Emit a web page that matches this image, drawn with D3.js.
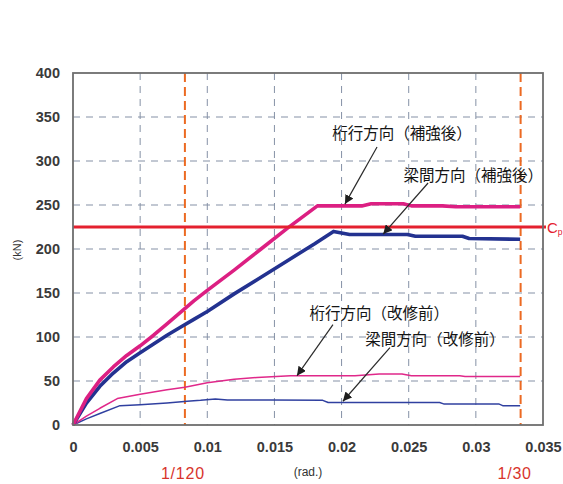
<!DOCTYPE html>
<html>
<head>
<meta charset="utf-8">
<script src="https://cdn.jsdelivr.net/npm/d3@7"></script>
<style>
  html, body { margin: 0; padding: 0; background: #ffffff; }
  svg { display: block; }
</style>
</head>
<body>
<svg id="chart" width="563" height="484"></svg>
<script>
// Drift angle (rad) vs. horizontal load (kN)
const xTicks = [0, 0.005, 0.01, 0.015, 0.02, 0.025, 0.03, 0.035];
const xTickLabels = ["0", "0.005", "0.01", "0.015", "0.02", "0.025", "0.03", "0.035"];
const yTicks = [0, 50, 100, 150, 200, 250, 300, 350, 400];
const yTickLabels = ["0", "50", "100", "150", "200", "250", "300", "350", "400"];

// Longitudinal direction, after strengthening
const ketaAfterX = [0, 0.001, 0.002, 0.003, 0.004, 0.005, 0.006, 0.007, 0.008, 0.009, 0.010, 0.012, 0.014, 0.016, 0.0182, 0.0215, 0.0222, 0.0246, 0.0252, 0.0275, 0.0285, 0.0333];
const ketaAfterY = [0, 30, 51, 66, 79, 90, 102, 115, 128, 141, 153, 176, 200, 224, 249, 249, 251.5, 251.5, 249, 249, 248, 248];

// Transverse direction, after strengthening
const hariAfterX = [0, 0.001, 0.002, 0.003, 0.004, 0.005, 0.006, 0.007, 0.008, 0.009, 0.010, 0.012, 0.014, 0.016, 0.018, 0.0194, 0.0206, 0.0249, 0.0255, 0.029, 0.0295, 0.0333];
const hariAfterY = [0, 25, 44, 59, 72, 82, 92, 102, 111, 120, 129, 149, 168, 187, 206, 220, 216.5, 216.5, 214.5, 214.5, 212, 211];

// Longitudinal direction, before renovation
const ketaBeforeX = [0, 0.001, 0.002, 0.0033, 0.005, 0.007, 0.00833, 0.010, 0.012, 0.0137, 0.0162, 0.021, 0.0228, 0.0245, 0.0252, 0.0288, 0.0292, 0.0333];
const ketaBeforeY = [0, 10, 19, 30, 35, 40, 43, 48, 52, 54, 56, 56, 58, 58, 56, 56, 55, 55];

// Transverse direction, before renovation
const hariBeforeX = [0, 0.001, 0.002, 0.0035, 0.005, 0.007, 0.0085, 0.0095, 0.0106, 0.0115, 0.0147, 0.0186, 0.019, 0.0273, 0.0276, 0.0317, 0.032, 0.0333];
const hariBeforeY = [0, 7, 13, 22, 23, 25, 27, 28, 29.5, 28.5, 28.5, 28, 25.5, 25.5, 24, 24, 22, 22];

// Required strength line and drift limits
const cpValue = 225;
const driftLimits = [1 / 120, 1 / 30];
const driftLabels = ["1/120", "1/30"];

// Curve annotations: label text, label anchor, arrow tail, arrow tip (data units)
const noteTexts = ["桁行方向（補強後）", "梁間方向（補強後）", "桁行方向（改修前）", "梁間方向（改修前）"];
const noteAt = [[0.0245, 333], [0.0298, 285], [0.0228, 128], [0.02696, 99]];
const noteTail = [[0.02264, 316], [0.02644, 275], [0.01936, 114], [0.0236, 88]];
const noteTip = [[0.02025, 251], [0.0231, 217], [0.01668, 56], [0.0201, 27]];

const svg = d3.select("#chart");
const plotLeft = 73, plotRight = 543, plotTop = 73, plotBottom = 425;

const x = d3.scaleLinear().domain([0, 0.035]).range([plotLeft, plotRight]);
const y = d3.scaleLinear().domain([0, 400]).range([plotBottom, plotTop]);

const numFont = "'Liberation Sans', Arial, sans-serif";
const jpFont = "'Noto Sans CJK JP', 'Noto Sans CJK SC', sans-serif";

// Grid
const grid = svg.append("g");
grid.selectAll("line.gx").data(xTicks.slice(1, -1)).enter().append("line")
  .attr("x1", d => x(d)).attr("x2", d => x(d))
  .attr("y1", plotTop).attr("y2", plotBottom)
  .attr("stroke", "#8591a6").attr("stroke-width", 1)
  .attr("stroke-dasharray", "7,6");
grid.selectAll("line.gy").data(yTicks.slice(1, -1)).enter().append("line")
  .attr("x1", plotLeft).attr("x2", plotRight)
  .attr("y1", d => y(d)).attr("y2", d => y(d))
  .attr("stroke", "#8591a6").attr("stroke-width", 1)
  .attr("stroke-dasharray", "7,6");

// Axes (labels only, frame drawn separately)
const xAxis = d3.axisBottom(x).tickValues(xTicks)
  .tickFormat((d, i) => xTickLabels[i]).tickSize(0).tickPadding(17);
const gx = svg.append("g").attr("transform", `translate(0,${plotBottom})`).call(xAxis);
gx.select(".domain").remove();
gx.selectAll("text").attr("font-family", numFont).attr("font-size", 14.5)
  .attr("font-weight", "bold").attr("fill", "#3a3a3a");

const yAxis = d3.axisLeft(y).tickValues(yTicks)
  .tickFormat((d, i) => yTickLabels[i]).tickSize(0).tickPadding(13);
const gy = svg.append("g").attr("transform", `translate(${plotLeft},0)`).call(yAxis);
gy.select(".domain").remove();
gy.selectAll("text").attr("font-family", numFont).attr("font-size", 14.5)
  .attr("font-weight", "bold").attr("fill", "#3a3a3a");

// Drift limit lines
svg.selectAll("line.drift").data(driftLimits).enter().append("line")
  .attr("x1", d => x(d)).attr("x2", d => x(d))
  .attr("y1", plotTop).attr("y2", plotBottom)
  .attr("stroke", "#ec6a22").attr("stroke-width", 2)
  .attr("stroke-dasharray", "9,5");

// Curves
const line = d3.line().x(d => x(d[0])).y(d => y(d[1]));
const series = [
  { xs: hariBeforeX, ys: hariBeforeY, color: "#3040a0", w: 1.5 },
  { xs: ketaBeforeX, ys: ketaBeforeY, color: "#e0288a", w: 1.5 },
  { xs: hariAfterX, ys: hariAfterY, color: "#233290", w: 3.6 },
  { xs: ketaAfterX, ys: ketaAfterY, color: "#dc1f82", w: 3.6 }
];
series.forEach(s => {
  svg.append("path")
    .datum(s.xs.map((v, i) => [v, s.ys[i]]))
    .attr("d", line)
    .attr("fill", "none")
    .attr("stroke", s.color)
    .attr("stroke-width", s.w)
    .attr("stroke-linejoin", "round");
});

// Cp line
svg.append("line")
  .attr("x1", plotLeft).attr("x2", 546)
  .attr("y1", y(cpValue)).attr("y2", y(cpValue))
  .attr("stroke", "#e4202e").attr("stroke-width", 3);
const cpText = svg.append("text")
  .attr("x", 547).attr("y", y(cpValue) + 6)
  .attr("font-family", numFont).attr("font-size", 15)
  .attr("fill", "#e4202e");
cpText.append("tspan").text("C");
cpText.append("tspan").attr("font-size", 8.5).attr("dy", 2).text("p");

// Frame
svg.append("rect")
  .attr("x", plotLeft).attr("y", plotTop)
  .attr("width", plotRight - plotLeft).attr("height", plotBottom - plotTop)
  .attr("fill", "none").attr("stroke", "#6e6e6e").attr("stroke-width", 1.8);

// Annotations with arrows
const defs = svg.append("defs");
defs.append("marker")
  .attr("id", "arrowhead")
  .attr("viewBox", "0 0 10 10")
  .attr("refX", 10).attr("refY", 5)
  .attr("markerWidth", 9).attr("markerHeight", 9)
  .attr("markerUnits", "userSpaceOnUse")
  .attr("orient", "auto")
  .append("path").attr("d", "M0,0 L10,5 L0,10 Z").attr("fill", "#1e1e1e");

noteTexts.forEach((t, i) => {
  svg.append("line")
    .attr("x1", x(noteTail[i][0])).attr("y1", y(noteTail[i][1]))
    .attr("x2", x(noteTip[i][0])).attr("y2", y(noteTip[i][1]))
    .attr("stroke", "#2a2a2a").attr("stroke-width", 1.2)
    .attr("marker-end", "url(#arrowhead)");
  svg.append("text")
    .attr("x", x(noteAt[i][0])).attr("y", y(noteAt[i][1]))
    .attr("text-anchor", "middle").attr("dominant-baseline", "central")
    .attr("font-family", jpFont).attr("font-size", 15.5)
    .attr("fill", "#151515")
    .text(t);
});

// Axis titles
svg.append("text")
  .attr("transform", "translate(17,250) rotate(-90)")
  .attr("text-anchor", "middle").attr("dominant-baseline", "central")
  .attr("font-family", numFont).attr("font-size", 11)
  .attr("fill", "#333").text("(kN)");
svg.append("text")
  .attr("x", 308).attr("y", 472)
  .attr("text-anchor", "middle").attr("dominant-baseline", "central")
  .attr("font-family", numFont).attr("font-size", 12)
  .attr("fill", "#333").text("(rad.)");

// Drift limit labels
svg.selectAll("text.drift").data(driftLimits).enter().append("text")
  .attr("x", (d, i) => x(d) - (i === 1 ? 6 : 2)).attr("y", 473)
  .attr("text-anchor", "middle").attr("dominant-baseline", "central")
  .attr("font-family", numFont).attr("font-size", 16)
  .attr("letter-spacing", 0.8)
  .attr("fill", "#d8342c")
  .text((d, i) => driftLabels[i]);
</script>
</body>
</html>
